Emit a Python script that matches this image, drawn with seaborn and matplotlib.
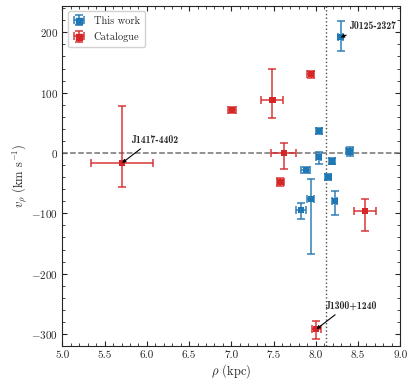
import numpy as np
import pandas as pd
import matplotlib
matplotlib.use("Agg")
import matplotlib.pyplot as plt
from matplotlib.legend_handler import HandlerTuple
import seaborn as sns

# data
this_rho = [8.294, 8.034, 8.034, 8.40, 8.196, 8.15, 7.88, 7.94, 8.227, 7.83]
this_v = [191.7, 37.0, -6.7, 2.7, -14.0, -39.5, -27.8, -75.6, -79.5, -94.0]
this_rho_err = [0.03, 0.035, 0.03, 0.047, 0.035, 0.035, 0.053, 0.045, 0.03, 0.06]
this_v_lo = [23, 5, 11, 7, 5, 5, 5, 91, 23, 15]
this_v_hi = [27, 5, 8, 7, 5, 5, 5, 33, 16, 11]

cat_rho = [5.706, 7.013, 7.487, 7.94, 7.62, 7.582, 8.58, 8.007]
cat_v = [-16.5, 71.0, 87.7, 130.5, 0.0, -47.8, -95.6, -292.0]
cat_rho_err = [0.37, 0.047, 0.13, 0.04, 0.15, 0.04, 0.13, 0.05]
cat_v_lo = [40, 5, 30, 6, 26, 7, 34, 17]
cat_v_hi = [94, 5, 52, 6, 16, 7, 20, 14]

R0 = 8.122

# name, point x, point y, text x, text y, where the arrow leaves the text
labels = [("J1417-4402", 5.706, -16.5, 5.81, 22, 0.32),
          ("J0125-2327", 8.294, 191.7, 8.40, 210, 0.13),
          ("J1300+1240", 8.007, -292.0, 8.11, -253, 0.30)]

sns.set_style("ticks")
plt.rcParams["font.family"] = ["cmr10", "DejaVu Serif"]
plt.rcParams["mathtext.fontset"] = "cm"
plt.rcParams["axes.formatter.use_mathtext"] = True
plt.rcParams["axes.unicode_minus"] = True

blue = "#1f77b4"
red = "#d62728"

df = pd.concat([
    pd.DataFrame({"rho": this_rho, "v": this_v, "src": "This work"}),
    pd.DataFrame({"rho": cat_rho, "v": cat_v, "src": "Catalogue"}),
], ignore_index=True)

fig = plt.figure(figsize=(4.16, 3.88), dpi=100)
ax = fig.add_axes([0.150, 0.108, 0.812, 0.877])

ax.axhline(0, color="0.45", ls="--", lw=1.1, zorder=1)
ax.axvline(R0, color="0.3", ls=":", lw=1.0, zorder=1)

eb_this = ax.errorbar(this_rho, this_v, xerr=this_rho_err, yerr=[this_v_lo, this_v_hi],
                      fmt="none", ecolor=blue, elinewidth=1.2, capsize=3, capthick=1.2,
                      alpha=0.85, zorder=2)
eb_cat = ax.errorbar(cat_rho, cat_v, xerr=cat_rho_err, yerr=[cat_v_lo, cat_v_hi],
                     fmt="none", ecolor=red, elinewidth=1.2, capsize=3, capthick=1.2,
                     alpha=0.85, zorder=2)
sns.scatterplot(data=df, x="rho", y="v", hue="src", palette={"This work": blue, "Catalogue": red},
                marker="s", s=20, linewidth=0, legend=False, ax=ax, zorder=3)

for name, px, py, tx, ty, rx in labels:
    ax.annotate(name, xy=(px, py), xytext=(tx, ty), family="cmb10", fontsize=7,
                ha="left", va="center",
                arrowprops=dict(arrowstyle="-|>", color="black", lw=0.8,
                                mutation_scale=5, shrinkA=1, shrinkB=0,
                                relpos=(rx, 0.0)))

h_this = ax.scatter([], [], marker="s", s=20, color=blue)
h_cat = ax.scatter([], [], marker="s", s=20, color=red)
ax.legend([(eb_this, h_this), (eb_cat, h_cat)], ["This work", "Catalogue"],
          handler_map={tuple: HandlerTuple(ndivide=1)}, loc="upper left",
          fontsize=7.5, handlelength=1.2, borderpad=0.5, labelspacing=0.6,
          framealpha=0.9, edgecolor="0.8")

ax.set_xlim(5.0, 9.0)
ax.set_ylim(-320, 244)
ax.set_xticks(np.arange(5.0, 9.01, 0.5))
ax.set_xticks(np.arange(5.0, 9.01, 0.1), minor=True)
ax.set_yticks([-300, -200, -100, 0, 100, 200])
ax.set_yticks(np.arange(-320, 241, 20), minor=True)
ax.xaxis.set_major_formatter(matplotlib.ticker.FormatStrFormatter("%.1f"))
ax.tick_params(which="both", direction="in", top=True, right=True, labelsize=8, pad=3)
ax.tick_params(which="major", length=3.5, width=0.8)
ax.tick_params(which="minor", length=2, width=0.6)
for sp in ax.spines.values():
    sp.set_linewidth(0.8)

ax.set_xlabel(r"$\rho$ (kpc)", fontsize=9, labelpad=2)
ax.set_ylabel(r"$v_\rho$ (km s$^{-1}$)", fontsize=9, labelpad=2)

fig.savefig("out.png", dpi=100)
